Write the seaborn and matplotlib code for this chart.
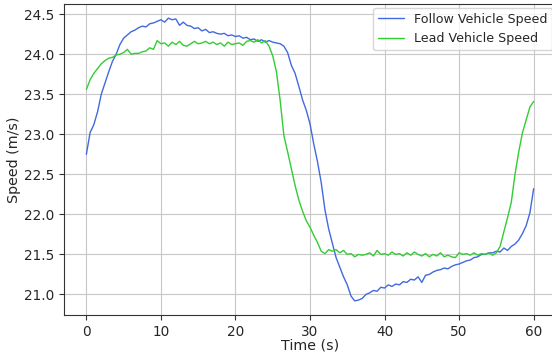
import numpy as np
import pandas as pd
import seaborn as sns
import matplotlib
matplotlib.use("Agg")
import matplotlib.pyplot as plt

# time axis, one sample every 0.5 s
time_s = np.arange(0, 60.5, 0.5)

follow_speed = [
    22.75, 23.02, 23.12, 23.28, 23.50, 23.64, 23.78, 23.91, 24.00, 24.12,
    24.20, 24.24, 24.28, 24.30, 24.33, 24.35, 24.34, 24.38, 24.39, 24.41,
    24.43, 24.40, 24.45, 24.43, 24.44, 24.36, 24.40, 24.36, 24.35, 24.32,
    24.33, 24.29, 24.31, 24.27, 24.28, 24.26, 24.25, 24.26, 24.23, 24.24,
    24.22, 24.23, 24.20, 24.21, 24.18, 24.19, 24.16, 24.18, 24.15, 24.17,
    24.15, 24.14, 24.13, 24.10, 24.02, 23.86, 23.76, 23.60, 23.43, 23.30,
    23.13, 22.88, 22.66, 22.40, 22.06, 21.82, 21.64, 21.46, 21.34, 21.22,
    21.12, 20.98, 20.92, 20.93, 20.95, 21.00, 21.02, 21.05, 21.04, 21.09,
    21.08, 21.12, 21.10, 21.13, 21.12, 21.16, 21.15, 21.19, 21.18, 21.22,
    21.15, 21.24, 21.25, 21.28, 21.30, 21.31, 21.33, 21.32, 21.35, 21.37,
    21.38, 21.40, 21.42, 21.43, 21.46, 21.47, 21.50, 21.50, 21.52, 21.52,
    21.54, 21.53, 21.58, 21.55, 21.60, 21.63, 21.68, 21.76, 21.86, 22.02,
    22.32,
]

lead_speed = [
    23.56, 23.68, 23.76, 23.82, 23.88, 23.92, 23.95, 23.96, 23.99, 24.00,
    24.02, 24.06, 24.00, 24.01, 24.01, 24.03, 24.04, 24.08, 24.06, 24.17,
    24.13, 24.14, 24.10, 24.15, 24.12, 24.16, 24.11, 24.10, 24.13, 24.16,
    24.13, 24.14, 24.16, 24.13, 24.15, 24.12, 24.14, 24.10, 24.15, 24.12,
    24.13, 24.14, 24.11, 24.16, 24.17, 24.15, 24.18, 24.14, 24.17, 24.10,
    23.98, 23.78, 23.42, 22.98, 22.78, 22.57, 22.36, 22.18, 22.04, 21.92,
    21.84, 21.74, 21.65, 21.54, 21.51, 21.56, 21.54, 21.56, 21.52, 21.55,
    21.50, 21.51, 21.47, 21.50, 21.49, 21.50, 21.52, 21.48, 21.55, 21.50,
    21.51, 21.49, 21.53, 21.50, 21.51, 21.48, 21.52, 21.49, 21.53, 21.50,
    21.48, 21.51, 21.47, 21.50, 21.48, 21.52, 21.47, 21.49, 21.47, 21.46,
    21.52, 21.50, 21.51, 21.49, 21.52, 21.49, 21.51, 21.50, 21.52, 21.49,
    21.52, 21.60, 21.78, 21.96, 22.15, 22.50, 22.78, 23.02, 23.18, 23.34,
    23.41,
]

sns.set_style("ticks", {"axes.grid": True, "grid.color": "#c8c8c8",
                        "axes.edgecolor": "#333333"})
plt.rcParams['font.family'] = ['DejaVu Sans']

fig = plt.figure(figsize=(5.52, 3.58), dpi=100)
# right spine sits just past the image edge, as in the reference
ax = fig.add_axes([64 / 552, 43 / 358, 492 / 552, 311 / 358])

sns.lineplot(x=time_s, y=follow_speed, color="royalblue", linewidth=1.0,
             label="Follow Vehicle Speed", ax=ax)
sns.lineplot(x=time_s, y=lead_speed, color="limegreen", linewidth=1.0,
             label="Lead Vehicle Speed", ax=ax)

ax.set_xlabel("Time (s)", fontsize=10.3, labelpad=0)
ax.set_ylabel("Speed (m/s)", fontsize=10.3, labelpad=2)
ax.tick_params(labelsize=9.8, color="#333333")
ax.set_yticks([21.0, 21.5, 22.0, 22.5, 23.0, 23.5, 24.0, 24.5])
ax.legend(loc="upper right", fontsize=9.1, borderaxespad=0.3)

fig.savefig("out.png", dpi=100)
